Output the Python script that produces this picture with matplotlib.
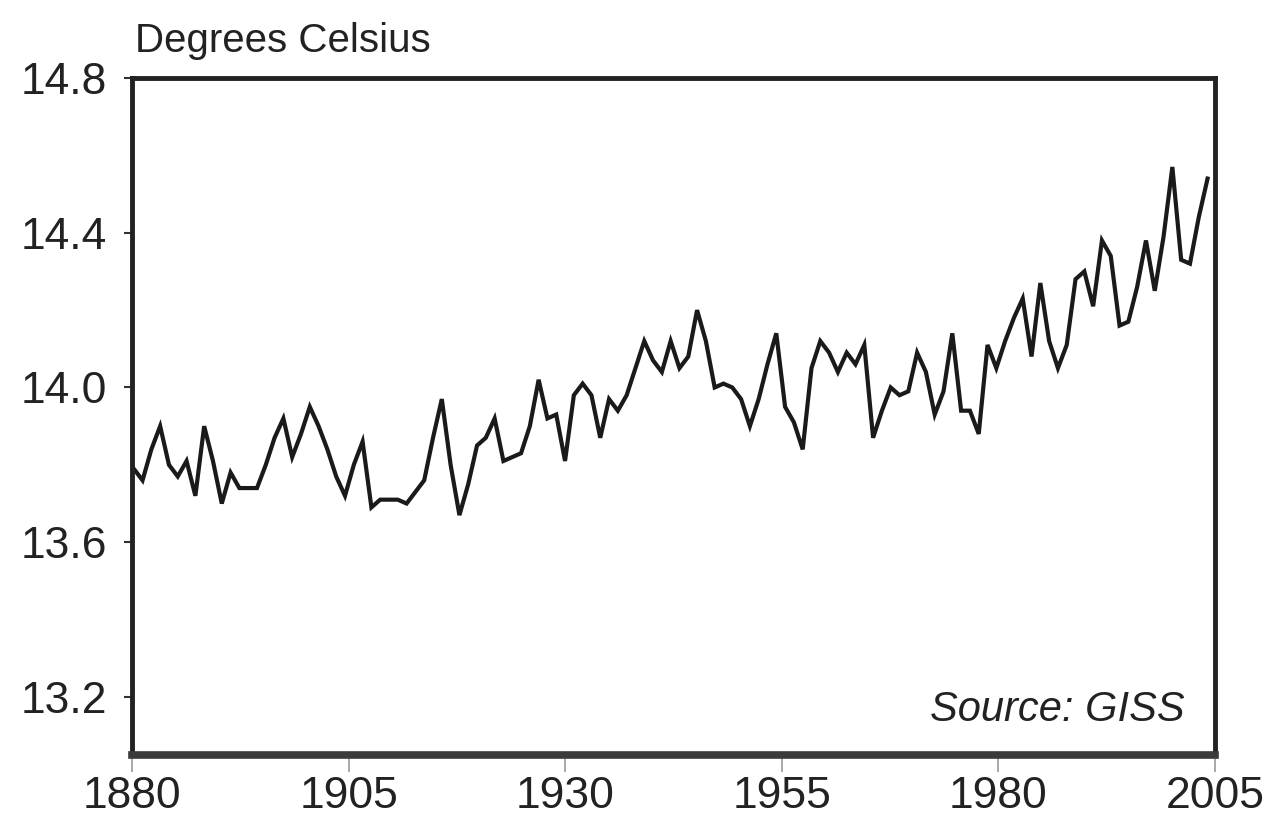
import numpy as np
import matplotlib
matplotlib.use("Agg")
import matplotlib.pyplot as plt

# global average temperature
years = list(range(1880, 2003))
temps = [
    13.79, 13.76, 13.84, 13.90, 13.80, 13.77, 13.81, 13.72, 13.90, 13.81,  # 1880s
    13.70, 13.78, 13.74, 13.74, 13.74, 13.80, 13.87, 13.92, 13.82, 13.88,  # 1890s
    13.95, 13.90, 13.84, 13.77, 13.72, 13.80, 13.86, 13.69, 13.71, 13.71,  # 1900s
    13.71, 13.70, 13.73, 13.76, 13.87, 13.97, 13.80, 13.67, 13.75, 13.85,  # 1910s
    13.87, 13.92, 13.81, 13.82, 13.83, 13.90, 14.02, 13.92, 13.93, 13.81,  # 1920s
    13.98, 14.01, 13.98, 13.87, 13.97, 13.94, 13.98, 14.05, 14.12, 14.07,  # 1930s
    14.04, 14.12, 14.05, 14.08, 14.20, 14.12, 14.00, 14.01, 14.00, 13.97,  # 1940s
    13.90, 13.97, 14.06, 14.14, 13.95, 13.91, 13.84, 14.05, 14.12, 14.09,  # 1950s
    14.04, 14.09, 14.06, 14.11, 13.87, 13.94, 14.00, 13.98, 13.99, 14.09,  # 1960s
    14.04, 13.93, 13.99, 14.14, 13.94, 13.94, 13.88, 14.11, 14.05, 14.12,  # 1970s
    14.18, 14.23, 14.08, 14.27, 14.12, 14.05, 14.11, 14.28, 14.30, 14.21,  # 1980s
    14.38, 14.34, 14.16, 14.17, 14.26, 14.38, 14.25, 14.39, 14.57, 14.33,  # 1990s
    14.32, 14.44, 14.54,                                                    # 2000s
]
x_labels = ["1880", "1905", "1930", "1955", "1980", "2005"]
y_ticks = [13.2, 13.6, 14.0, 14.4, 14.8]

plt.rcParams["font.family"] = ["Liberation Sans", "DejaVu Sans"]

fig = plt.figure(figsize=(12.79, 8.21), dpi=100)
ax = fig.add_axes([0.1032, 0.0804, 0.8468, 0.8246])

ax.plot(years, temps, color="#1a1a1a", lw=3.0, solid_joinstyle="miter")

ax.set_xlim(1879.8, 2002.85)
ax.set_ylim(13.05, 14.8)

# the axis labels are spread evenly over the frame, as in the original
ax.set_xticks(np.linspace(*ax.get_xlim(), len(x_labels)))
ax.set_xticklabels(x_labels)
ax.set_yticks(y_ticks)
ax.set_yticklabels([f"{v:.1f}" for v in y_ticks])

ax.tick_params(axis="x", direction="out", length=12, width=1.2, color="#999999",
               pad=3, labelsize=32, labelcolor="#222222")
ax.tick_params(axis="y", direction="out", length=6, width=1.5, color="#333333",
               pad=12, labelsize=32, labelcolor="#222222")

for side in ["left", "top", "right"]:
    ax.spines[side].set_linewidth(3.5)
    ax.spines[side].set_color("#222222")
ax.spines["bottom"].set_linewidth(5.5)
ax.spines["bottom"].set_color("#3a3a3a")

fig.text(0.1056, 0.9367, "Degrees Celsius", fontsize=29, color="#222222",
         ha="left", va="baseline")
ax.text(0.972, 0.066, "Source: GISS", transform=ax.transAxes, fontsize=30,
        fontstyle="italic", color="#222222", ha="right", va="center")

fig.savefig("out.png", dpi=100)
